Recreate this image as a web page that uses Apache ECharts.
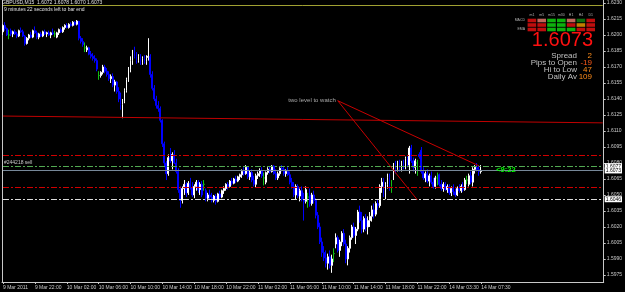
<!DOCTYPE html>
<html><head><meta charset="utf-8">
<script src="https://cdn.jsdelivr.net/npm/echarts@6/dist/echarts.min.js"></script>
<style>html,body{margin:0;padding:0;background:#000}#c{width:625px;height:292px}</style>
</head><body><div id="c"></div>
<script>
// ---- x axis tick labels (every 16 bars of M15) ----
const tickLabels = ['9 Mar 2011','9 Mar 22:00','10 Mar 02:00','10 Mar 06:00','10 Mar 10:00','10 Mar 14:00','10 Mar 18:00','10 Mar 22:00','11 Mar 02:00','11 Mar 06:00','11 Mar 10:00','11 Mar 14:00','11 Mar 18:00','11 Mar 22:00','14 Mar 03:30','14 Mar 07:30'];
const totalSlots = 302; // bars + chart shift space
// ---- y axis tick labels ----
const yTicks = [1.5975,1.5990,1.6005,1.6020,1.6035,1.6050,1.6065,1.6080,1.6095,1.6110,1.6125,1.6140,1.6155,1.6170,1.6185,1.6200,1.6215,1.6230];

// ---- GBPUSD M15 candles ----
const open = [1.6203,1.6209,1.6206,1.6200,1.6204,1.6201,1.6203,1.6201,1.6199,1.6204,
1.6203,1.6199,1.6192,1.6197,1.6200,1.6198,1.6204,1.6202,1.6198,1.6201,
1.6199,1.6203,1.6201,1.6202,1.6200,1.6202,1.6201,1.6198,1.6202,1.6205,
1.6203,1.6207,1.6209,1.6207,1.6210,1.6209,1.6212,1.6210,1.6213,1.6197,
1.6194,1.6188,1.6186,1.6188,1.6182,1.6180,1.6178,1.6176,1.6162,1.6162,
1.6165,1.6170,1.6166,1.6163,1.6159,1.6161,1.6153,1.6156,1.6147,1.6140,
1.6135,1.6138,1.6148,1.6158,1.6168,1.6176,1.6183,1.6180,1.6176,1.6180,
1.6174,1.6178,1.6175,1.6179,1.6180,1.6163,1.6150,1.6140,1.6134,1.6131,
1.6120,1.6098,1.6080,1.6070,1.6085,1.6082,1.6088,1.6080,1.6072,1.6055,
1.6045,1.6056,1.6060,1.6052,1.6061,1.6057,1.6050,1.6058,1.6062,1.6055,
1.6060,1.6060,1.6054,1.6047,1.6050,1.6048,1.6045,1.6049,1.6044,1.6051,
1.6048,1.6054,1.6056,1.6060,1.6058,1.6063,1.6061,1.6065,1.6063,1.6067,
1.6069,1.6072,1.6070,1.6076,1.6067,1.6071,1.6064,1.6060,1.6068,1.6070,
1.6073,1.6066,1.6062,1.6071,1.6074,1.6072,1.6077,1.6070,1.6066,1.6070,
1.6075,1.6074,1.6070,1.6072,1.6069,1.6062,1.6058,1.6050,1.6058,1.6049,
1.6054,1.6046,1.6044,1.6048,1.6050,1.6042,1.6050,1.6045,1.6031,1.6020,
1.6006,1.5996,1.5991,1.5986,1.5992,1.5984,1.5995,1.6004,1.6010,1.5998,
1.6006,1.6014,1.6004,1.5990,1.6000,1.6010,1.6020,1.6012,1.6018,1.6034,
1.6026,1.6018,1.6028,1.6020,1.6026,1.6030,1.6036,1.6032,1.6042,1.6040,
1.6058,1.6062,1.6052,1.6060,1.6066,1.6058,1.6066,1.6078,1.6074,1.6080,
1.6075,1.6079,1.6077,1.6084,1.6078,1.6094,1.6082,1.6076,1.6080,1.6088,
1.6092,1.6072,1.6066,1.6070,1.6063,1.6068,1.6062,1.6058,1.6066,1.6069,
1.6060,1.6056,1.6060,1.6055,1.6058,1.6052,1.6056,1.6053,1.6050,1.6056,
1.6054,1.6058,1.6055,1.6064,1.6060,1.6068,1.6062,1.6074,1.6076,1.6074,
1.6072];
const high = [1.6210,1.6212,1.6207,1.6205,1.6206,1.6204,1.6205,1.6203,1.6205,1.6207,
1.6205,1.6200,1.6198,1.6201,1.6203,1.6205,1.6208,1.6204,1.6202,1.6203,
1.6204,1.6205,1.6203,1.6204,1.6203,1.6206,1.6204,1.6203,1.6206,1.6207,
1.6208,1.6210,1.6211,1.6211,1.6212,1.6213,1.6213,1.6214,1.6213,1.6199,
1.6197,1.6193,1.6190,1.6189,1.6185,1.6183,1.6181,1.6178,1.6166,1.6166,
1.6172,1.6172,1.6169,1.6166,1.6163,1.6164,1.6158,1.6157,1.6151,1.6146,
1.6140,1.6150,1.6160,1.6170,1.6180,1.6186,1.6189,1.6184,1.6182,1.6182,
1.6180,1.6181,1.6181,1.6197,1.6182,1.6166,1.6153,1.6143,1.6138,1.6133,
1.6121,1.6100,1.6082,1.6088,1.6094,1.6090,1.6092,1.6084,1.6075,1.6058,
1.6058,1.6064,1.6062,1.6063,1.6066,1.6062,1.6060,1.6064,1.6064,1.6062,
1.6063,1.6064,1.6056,1.6052,1.6055,1.6052,1.6050,1.6051,1.6052,1.6054,
1.6055,1.6058,1.6061,1.6062,1.6064,1.6066,1.6066,1.6068,1.6068,1.6070,
1.6074,1.6076,1.6078,1.6077,1.6073,1.6074,1.6068,1.6070,1.6072,1.6075,
1.6076,1.6071,1.6072,1.6076,1.6077,1.6078,1.6078,1.6074,1.6072,1.6076,
1.6078,1.6077,1.6074,1.6076,1.6072,1.6066,1.6062,1.6060,1.6060,1.6056,
1.6058,1.6052,1.6058,1.6052,1.6056,1.6052,1.6054,1.6047,1.6034,1.6024,
1.6010,1.6002,1.5998,1.5995,1.5998,1.5994,1.6000,1.6014,1.6012,1.6008,
1.6016,1.6018,1.6008,1.6002,1.6012,1.6022,1.6024,1.6020,1.6036,1.6040,
1.6034,1.6030,1.6032,1.6030,1.6034,1.6040,1.6042,1.6044,1.6046,1.6060,
1.6066,1.6066,1.6062,1.6070,1.6070,1.6064,1.6080,1.6082,1.6082,1.6083,
1.6082,1.6083,1.6086,1.6086,1.6096,1.6097,1.6085,1.6084,1.6083,1.6090,
1.6095,1.6076,1.6072,1.6074,1.6070,1.6072,1.6066,1.6068,1.6071,1.6070,
1.6064,1.6062,1.6062,1.6060,1.6060,1.6058,1.6060,1.6056,1.6058,1.6060,
1.6060,1.6062,1.6066,1.6068,1.6070,1.6072,1.6076,1.6078,1.6080,1.6078,
1.6078];
const low = [1.6200,1.6204,1.6199,1.6196,1.6199,1.6198,1.6200,1.6197,1.6198,1.6202,
1.6198,1.6190,1.6191,1.6195,1.6197,1.6197,1.6201,1.6196,1.6196,1.6198,
1.6198,1.6200,1.6198,1.6199,1.6197,1.6200,1.6198,1.6197,1.6200,1.6202,
1.6202,1.6205,1.6206,1.6206,1.6208,1.6208,1.6209,1.6209,1.6195,1.6192,
1.6189,1.6184,1.6184,1.6181,1.6178,1.6176,1.6174,1.6166,1.6158,1.6160,
1.6163,1.6164,1.6161,1.6157,1.6155,1.6151,1.6147,1.6145,1.6137,1.6130,
1.6122,1.6136,1.6146,1.6156,1.6165,1.6172,1.6178,1.6173,1.6174,1.6172,
1.6172,1.6173,1.6172,1.6176,1.6160,1.6148,1.6138,1.6131,1.6128,1.6118,
1.6095,1.6076,1.6064,1.6068,1.6080,1.6074,1.6079,1.6070,1.6052,1.6038,
1.6042,1.6050,1.6048,1.6050,1.6055,1.6048,1.6047,1.6054,1.6052,1.6050,
1.6048,1.6054,1.6044,1.6044,1.6046,1.6043,1.6043,1.6041,1.6043,1.6046,
1.6047,1.6051,1.6054,1.6055,1.6057,1.6059,1.6060,1.6061,1.6062,1.6064,
1.6066,1.6068,1.6069,1.6065,1.6064,1.6062,1.6058,1.6057,1.6065,1.6067,
1.6066,1.6059,1.6060,1.6069,1.6070,1.6071,1.6069,1.6064,1.6064,1.6068,
1.6072,1.6068,1.6067,1.6068,1.6060,1.6056,1.6048,1.6046,1.6047,1.6044,
1.6044,1.6026,1.6042,1.6038,1.6039,1.6040,1.6042,1.6028,1.6018,1.6004,
1.5992,1.5988,1.5982,1.5980,1.5981,1.5977,1.5987,1.6000,1.5996,1.5992,
1.6002,1.6002,1.5986,1.5984,1.5996,1.6008,1.6010,1.6004,1.6016,1.6024,
1.6014,1.6015,1.6016,1.6013,1.6020,1.6025,1.6028,1.6030,1.6036,1.6038,
1.6052,1.6048,1.6046,1.6056,1.6054,1.6052,1.6064,1.6070,1.6072,1.6072,
1.6072,1.6074,1.6074,1.6076,1.6070,1.6080,1.6072,1.6070,1.6068,1.6084,
1.6070,1.6064,1.6062,1.6061,1.6058,1.6060,1.6056,1.6056,1.6059,1.6058,
1.6054,1.6053,1.6054,1.6052,1.6050,1.6049,1.6050,1.6048,1.6049,1.6052,
1.6052,1.6053,1.6054,1.6060,1.6058,1.6060,1.6058,1.6070,1.6072,1.6068,
1.6070];
const close = [1.6209,1.6206,1.6200,1.6200,1.6201,1.6203,1.6201,1.6199,1.6204,1.6203,
1.6199,1.6192,1.6197,1.6200,1.6198,1.6204,1.6202,1.6198,1.6201,1.6199,
1.6203,1.6201,1.6202,1.6200,1.6202,1.6201,1.6201,1.6202,1.6205,1.6203,
1.6207,1.6209,1.6207,1.6210,1.6209,1.6212,1.6210,1.6213,1.6197,1.6194,
1.6191,1.6188,1.6188,1.6182,1.6180,1.6178,1.6176,1.6168,1.6162,1.6165,
1.6170,1.6166,1.6163,1.6159,1.6161,1.6153,1.6156,1.6147,1.6140,1.6135,
1.6138,1.6148,1.6158,1.6168,1.6176,1.6183,1.6180,1.6176,1.6180,1.6174,
1.6178,1.6175,1.6179,1.6180,1.6163,1.6150,1.6140,1.6134,1.6131,1.6120,
1.6098,1.6080,1.6070,1.6085,1.6082,1.6088,1.6080,1.6072,1.6055,1.6045,
1.6056,1.6060,1.6052,1.6061,1.6057,1.6050,1.6058,1.6062,1.6055,1.6060,
1.6050,1.6060,1.6047,1.6050,1.6048,1.6045,1.6049,1.6044,1.6051,1.6048,
1.6054,1.6056,1.6060,1.6058,1.6063,1.6061,1.6065,1.6063,1.6067,1.6069,
1.6072,1.6070,1.6076,1.6067,1.6071,1.6064,1.6060,1.6068,1.6070,1.6073,
1.6068,1.6066,1.6071,1.6074,1.6072,1.6077,1.6070,1.6066,1.6070,1.6075,
1.6074,1.6070,1.6072,1.6069,1.6062,1.6058,1.6050,1.6058,1.6049,1.6054,
1.6046,1.6044,1.6055,1.6048,1.6042,1.6050,1.6045,1.6031,1.6020,1.6006,
1.5996,1.5991,1.5986,1.5992,1.5984,1.5990,1.5995,1.6010,1.5998,1.6006,
1.6014,1.6004,1.5990,1.6000,1.6010,1.6020,1.6012,1.6018,1.6034,1.6026,
1.6018,1.6028,1.6020,1.6026,1.6030,1.6036,1.6032,1.6042,1.6040,1.6058,
1.6062,1.6052,1.6060,1.6066,1.6058,1.6058,1.6078,1.6074,1.6080,1.6075,
1.6079,1.6077,1.6084,1.6078,1.6094,1.6082,1.6076,1.6082,1.6080,1.6086,
1.6072,1.6066,1.6070,1.6063,1.6068,1.6062,1.6058,1.6066,1.6066,1.6060,
1.6056,1.6060,1.6055,1.6058,1.6052,1.6056,1.6053,1.6050,1.6056,1.6054,
1.6058,1.6055,1.6064,1.6064,1.6068,1.6062,1.6074,1.6076,1.6074,1.6072,
1.6073];

// ---- horizontal levels / objects ----
const oliveLevel = 1.62276;
const redLevels = [1.6087, 1.6057];
const orderLevel = 1.6077;
const bidLevel = 1.6073;
const watchLevel = 1.6046;
const redTrend = [[0, 1.61240], [301, 1.61176]];
const watchStart = [168, 1.61384];
const watchEnds = [[208, 1.60453], [239, 1.60772]];

// ---- HUD indicator table ----
const hudTimeframes = ['m1','m5','m15','m30','H1','H4','D1'];
const hudRows = ['MACD','STR','EMA'];
const hudStates = [['r','lr','g','g','lr','dg','r'],
                   ['r','r','g','g','r','o','r'],
                   ['r','r','g','g','g','r','r']];
const hudColors = {r:'#ee1111', lr:'#f08070', g:'#11dd11', dg:'#118811', o:'#f0a000'};
const hudLabels = ['Spread','Pips to Open','Hi to Low','Daily Av'];
const hudValues = ['2','-19','47','109'];

const FONT = 'Liberation Sans';
const grey = '#c8c8c8';
const dashDot = [6, 2, 2, 2];
const lastSlot = totalSlots - 1;
const dojiColor = '#12c012';

const categories = Array.from({length: totalSlots}, (_, i) => String(i));
// doji bars (open == close) are painted in MT4's line colour
const candleData = open.map((o, i) => {
  const v = [o, close[i], low[i], high[i]];
  return o === close[i]
    ? {value:v, itemStyle:{color:dojiColor, color0:dojiColor, borderColor:dojiColor, borderColor0:dojiColor}}
    : v;
});
const hudData = [];
hudStates.forEach((row, r) => row.forEach((s, c) => hudData.push({value:[c, r], itemStyle:{color:hudColors[s]}})));

const hLine = (v, style, label) => [
  {coord:[0, v]},
  {coord:[lastSlot, v], lineStyle:style, label: label || {show:false}}
];
const boxLabel = (txt) => ({show:true, position:'end', distance:2, formatter:txt, color:'#000', backgroundColor:'#fff',
  fontSize:5, fontFamily:FONT, padding:[1,1,0,1], lineHeight:5});

const chart = echarts.init(document.getElementById('c'), null, {renderer:'canvas'});
chart.setOption({
  animation:false,
  backgroundColor:'#000',
  title:[
    {text:'GBPUSD,M15  1.6072 1.6078 1.6070 1.6073', left:2, top:0, padding:0,
     textStyle:{fontSize:5, color:'#e0e0e0', fontWeight:'normal', fontFamily:FONT}},
    {text:'9 minutes 22 seconds left to bar end', left:4, top:7, padding:0,
     textStyle:{fontSize:5, color:'#e0e0e0', fontWeight:'normal', fontFamily:FONT}}
  ],
  grid:[
    {left:2, top:0, width:603, height:282},
    {left:527, top:18.25, width:68.6, height:13.5}
  ],
  xAxis:[
    {type:'category', gridIndex:0, data:categories, boundaryGap:true,
     axisLine:{lineStyle:{color:grey, width:1}},
     axisTick:{show:true, length:2, alignWithLabel:true, interval:(i)=> i % 16 === 0 && i/16 < tickLabels.length, lineStyle:{color:grey}},
     axisLabel:{interval:(i)=> i % 16 === 0 && i/16 < tickLabels.length, formatter:(v, i)=> tickLabels[i/16] || '',
       align:'left', fontSize:5, color:grey, margin:3, fontFamily:FONT},
     splitLine:{show:false}},
    {type:'category', gridIndex:1, data:hudTimeframes, position:'top',
     axisLine:{show:false}, axisTick:{show:false},
     axisLabel:{fontSize:3.5, color:'#b0b0b0', margin:1, fontFamily:FONT}}
  ],
  yAxis:[
    {type:'value', gridIndex:0, position:'right', min:1.59684, max:1.62328,
     axisLine:{show:true, lineStyle:{color:grey}},
     axisTick:{show:true, length:2, customValues:yTicks, lineStyle:{color:grey}},
     axisLabel:{customValues:yTicks, formatter:(v)=> v.toFixed(4), fontSize:5, color:grey, margin:3, fontFamily:FONT},
     splitLine:{show:false}},
    {type:'value', gridIndex:0, position:'left', min:1.59684, max:1.62328,
     axisLine:{show:true, lineStyle:{color:grey}}, axisTick:{show:false}, axisLabel:{show:false}, splitLine:{show:false}},
    {type:'category', gridIndex:1, data:hudRows, inverse:true,
     axisLine:{show:false}, axisTick:{show:false},
     axisLabel:{fontSize:3.5, color:'#b0b0b0', margin:2, fontFamily:FONT}}
  ],
  series:[
    {type:'candlestick', xAxisIndex:0, yAxisIndex:0, data:candleData, barWidth:1.4,
     itemStyle:{color:'#ffffff', color0:'#0000ff', borderColor:'#ffffff', borderColor0:'#0000ff', borderWidth:1},
     markLine:{silent:true, symbol:['none','none'], label:{show:false},
       data:[
         hLine(oliveLevel, {color:'#a0a032', width:1, type:'solid'}),
         [{coord:redTrend[0]}, {coord:redTrend[1], lineStyle:{color:'#c00000', width:1, type:'solid'}}],
         hLine(redLevels[0], {color:'#d00000', width:1, type:dashDot}),
         hLine(redLevels[1], {color:'#d00000', width:1, type:dashDot}),
         hLine(orderLevel, {color:'#52aa52', width:1, type:dashDot}, boxLabel('1.6077')),
         hLine(bidLevel, {color:'#778899', width:1, type:'solid'}, boxLabel('1.6073')),
         hLine(watchLevel, {color:'#dcdcdc', width:1, type:dashDot}, boxLabel('1.6046')),
         [{coord:watchStart}, {coord:watchEnds[0], lineStyle:{color:'#c80000', width:1, type:'solid'}}],
         [{coord:watchStart}, {coord:watchEnds[1], lineStyle:{color:'#c80000', width:1, type:'solid'}}]
       ]},
     markPoint:{silent:true, symbol:'circle', symbolSize:0,
       data:[
         {coord:watchStart, label:{show:true, position:'left', distance:2, formatter:'two level to watch', color:'#a8a8a8', fontSize:6, fontFamily:FONT}},
         {coord:[0, orderLevel], label:{show:true, position:'right', distance:1, offset:[0,-3.5], formatter:'#244218 sell', color:grey, fontSize:5, fontFamily:FONT}},
         {coord:[open.length-1, bidLevel], label:{show:true, position:'right', distance:15, formatter:'<9:22', color:'#00ff00', fontSize:7.5, fontWeight:'bold', fontFamily:FONT}}
       ]}
    },
    {type:'scatter', xAxisIndex:1, yAxisIndex:2, symbol:'rect', symbolSize:[8.6, 3.6], data:hudData, silent:true}
  ],
  graphic:[
    {type:'text', right:32, top:30, style:{text:'1.6073', fill:'#ff1010', font:'20px "Liberation Sans"'}},
    ...hudLabels.map((t, k) => ({type:'text', x:577, y:55.5 + k*7.2, style:{text:t, fill:'#c0c0c0', font:'8px "Liberation Sans"', textAlign:'right', textVerticalAlign:'middle'}})),
    ...hudValues.map((t, k) => ({type:'text', x:592, y:55.5 + k*7.2, style:{text:t, fill: t.startsWith('-') ? '#ff5a1a' : '#ff8c1a', font:'8px "Liberation Sans"', textAlign:'right', textVerticalAlign:'middle'}}))
  ]
});
</script>
</body></html>
